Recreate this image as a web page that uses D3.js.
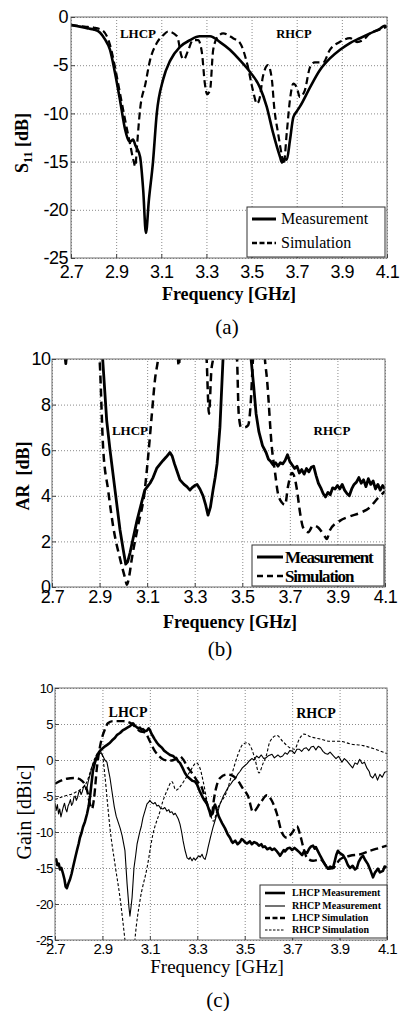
<!DOCTYPE html>
<html><head><meta charset="utf-8">
<script src="https://cdn.jsdelivr.net/npm/d3@7"></script>
<style>
body{margin:0;background:#fff;}
svg{display:block;}
</style></head><body>
<svg id="chart" width="400" height="1011"></svg>
<script>
// ---------- shared ticks ----------
const freqTicks = [2.7, 2.9, 3.1, 3.3, 3.5, 3.7, 3.9, 4.1];
const freqTickLabels = ["2.7", "2.9", "3.1", "3.3", "3.5", "3.7", "3.9", "4.1"];
const s11Ticks = [0, -5, -10, -15, -20, -25];
const arTicks = [10, 8, 6, 4, 2, 0];
const gainTicks = [10, 5, 0, -5, -10, -15, -20, -25];

// ---------- (a) S11 [dB] ----------
const s11Measurement = [[2.70,-0.85],[2.74,-1.0],[2.78,-1.2],[2.80,-1.3],[2.828,-1.6],[2.85,-2.3],[2.873,-3.4],[2.895,-5.8],[2.917,-8.6],[2.94,-11.7],[2.955,-12.8],[2.965,-12.9],[2.975,-12.7],[2.985,-13.3],[3.006,-14.5],[3.02,-18],[3.032,-22.4],[3.045,-19],[3.063,-15.1],[3.08,-10],[3.108,-6.5],[3.14,-4.5],[3.183,-3.1],[3.227,-2.4],[3.27,-2.0],[3.316,-2.0],[3.36,-2.6],[3.404,-3.4],[3.449,-4.5],[3.493,-5.7],[3.537,-7.3],[3.567,-9.3],[3.595,-12],[3.626,-14.5],[3.635,-15.1],[3.645,-14.7],[3.656,-14.8],[3.67,-12.8],[3.685,-10.4],[3.70,-9.8],[3.714,-9.3],[3.759,-7.3],[3.803,-5.5],[3.847,-4.3],[3.892,-3.4],[3.936,-2.7],[3.98,-2.2],[4.025,-1.7],[4.07,-1.2],[4.09,-0.9],[4.1,-1.1]];
const s11Simulation = [[2.70,-0.8],[2.76,-1.0],[2.80,-1.1],[2.84,-1.4],[2.873,-2.9],[2.895,-5.2],[2.917,-7.9],[2.94,-10.7],[2.96,-13],[2.976,-14.8],[2.985,-15.5],[2.992,-13.5],[3.006,-9.6],[3.03,-6.9],[3.05,-4.5],[3.08,-2.7],[3.108,-1.9],[3.13,-1.5],[3.17,-2.0],[3.19,-4.1],[3.20,-4.4],[3.22,-3.4],[3.24,-2.4],[3.263,-2.4],[3.28,-3.7],[3.293,-6.9],[3.303,-8.0],[3.316,-7.6],[3.33,-3.4],[3.352,-2.0],[3.374,-1.7],[3.418,-2.2],[3.449,-2.7],[3.48,-4.8],[3.506,-7.6],[3.524,-9.0],[3.537,-8.3],[3.55,-6.2],[3.573,-5.0],[3.59,-6.5],[3.60,-9.3],[3.617,-12],[3.635,-14.5],[3.642,-15.3],[3.656,-12],[3.67,-8.6],[3.685,-6.9],[3.70,-7.3],[3.714,-8.3],[3.736,-7.6],[3.759,-5.2],[3.78,-4.7],[3.817,-4.7],[3.847,-3.4],[3.89,-2.6],[3.936,-2.2],[3.967,-2.6],[3.994,-2.4],[4.025,-1.7],[4.07,-1.3],[4.1,-1.0]];

// ---------- (b) AR [dB] ----------
const arMeasurement = [[2.70,11],[2.75,10.6],[2.758,9.8],[2.765,10.6],[2.9,11],[2.913,10],[2.93,7.3],[2.944,6.0],[2.965,4.25],[2.986,2.5],[3.0,1.6],[3.01,1.0],[3.018,1.1],[3.028,1.5],[3.057,2.9],[3.09,4.25],[3.112,4.55],[3.125,4.8],[3.14,5.2],[3.155,5.4],[3.167,5.55],[3.18,5.7],[3.196,5.9],[3.205,5.75],[3.215,5.4],[3.225,5.1],[3.238,4.7],[3.255,4.5],[3.267,4.4],[3.28,4.25],[3.288,4.35],[3.3,4.45],[3.31,4.5],[3.322,4.3],[3.335,4.0],[3.346,3.6],[3.356,3.15],[3.366,3.5],[3.377,4.25],[3.386,4.8],[3.394,5.4],[3.406,7.0],[3.419,10],[3.43,11.5],[3.52,11.5],[3.537,10],[3.548,8.8],[3.558,7.6],[3.57,6.8],[3.585,6.2],[3.6,5.9],[3.61,5.6],[3.62,5.5],[3.63,5.35],[3.64,5.45],[3.65,5.3],[3.66,5.45],[3.67,5.4],[3.68,5.55],[3.69,5.8],[3.70,5.5],[3.71,5.35],[3.72,5.2],[3.73,5.3],[3.74,5.0],[3.75,5.15],[3.76,4.95],[3.77,5.2],[3.78,5.05],[3.79,5.25],[3.80,5.3],[3.81,4.9],[3.82,4.55],[3.83,4.35],[3.84,4.1],[3.85,3.95],[3.86,4.15],[3.87,4.05],[3.88,4.35],[3.89,4.3],[3.90,4.45],[3.91,4.3],[3.92,4.5],[3.93,4.25],[3.94,4.1],[3.95,4.0],[3.96,4.3],[3.97,4.5],[3.98,4.6],[3.99,4.8],[4.00,4.55],[4.01,4.7],[4.02,4.4],[4.03,4.75],[4.04,4.5],[4.05,4.65],[4.06,4.3],[4.07,4.5],[4.08,4.25],[4.09,4.45],[4.10,4.3]];
const arSimulation = [[2.70,12],[2.89,11],[2.9,10],[2.915,6.1],[2.936,4.25],[2.958,2.6],[2.987,1.2],[3.007,0.4],[3.015,0.1],[3.025,0.5],[3.035,1.2],[3.06,2.6],[3.09,4.25],[3.104,5.7],[3.12,7.6],[3.133,9.1],[3.146,10],[3.16,11.5],[3.22,11.5],[3.233,9.7],[3.245,11.5],[3.34,11.5],[3.35,10],[3.36,7.6],[3.37,9.5],[3.377,10],[3.39,11.5],[3.465,11.5],[3.478,10],[3.485,7.6],[3.495,7.0],[3.51,7.0],[3.525,7.1],[3.535,8],[3.545,10],[3.555,11.5],[3.585,11.5],[3.595,10],[3.604,9.1],[3.624,6.15],[3.638,5.0],[3.65,4.1],[3.667,3.7],[3.68,3.6],[3.692,4.4],[3.709,5.0],[3.72,4.8],[3.73,4.25],[3.743,3.25],[3.756,2.6],[3.777,2.4],[3.798,2.7],[3.82,2.6],[3.848,2.2],[3.855,2.1],[3.869,2.5],[3.91,2.9],[3.953,3.1],[3.995,3.25],[4.037,3.5],[4.07,3.9],[4.09,4.1],[4.1,4.2]];

// ---------- (c) Gain [dBic] ----------
const lhcpMeasurement = [[2.700,-14.0],[2.705,-13.8],[2.71,-14.6],[2.716,-14.4],[2.721,-15.2],[2.727,-15.0],[2.734,-15.8],[2.74,-16.6],[2.745,-17.6],[2.75,-17.8],[2.756,-17.2],[2.763,-16.6],[2.77,-15.8],[2.776,-14.9],[2.785,-13.6],[2.793,-12.5],[2.80,-11.6],[2.805,-10.8],[2.812,-10.1],[2.818,-9.3],[2.826,-8.6],[2.835,-7.5],[2.842,-6.4],[2.848,-5.0],[2.854,-3.2],[2.86,-1.5],[2.868,-0.4],[2.877,0.5],[2.884,1.0],[2.89,1.3],[2.90,1.6],[2.911,1.9],[2.92,2.1],[2.932,2.4],[2.94,2.7],[2.953,3.1],[2.962,3.5],[2.974,3.75],[2.985,4.1],[2.995,4.3],[3.005,4.5],[3.016,4.7],[3.022,4.9],[3.029,5.1],[3.036,4.8],[3.043,4.6],[3.05,4.4],[3.058,4.5],[3.065,4.2],[3.071,4.3],[3.08,4.0],[3.088,4.1],[3.095,4.4],[3.10,4.2],[3.106,3.7],[3.113,3.3],[3.12,2.9],[3.13,2.4],[3.14,2.0],[3.151,1.7],[3.16,1.3],[3.172,1.0],[3.185,0.7],[3.198,0.55],[3.206,0.3],[3.214,0.1],[3.22,-0.2],[3.227,-0.4],[3.238,-1.1],[3.248,-1.8],[3.258,-2.3],[3.269,-2.6],[3.28,-2.9],[3.29,-3.0],[3.299,-3.4],[3.31,-4.3],[3.32,-5.0],[3.33,-5.6],[3.341,-6.1],[3.348,-6.8],[3.354,-7.1],[3.36,-7.6],[3.366,-7.3],[3.37,-6.5],[3.375,-6.2],[3.383,-7.0],[3.39,-7.8],[3.396,-8.2],[3.405,-8.8],[3.417,-9.5],[3.428,-10.3],[3.438,-10.8],[3.445,-11.3],[3.45,-11.5],[3.46,-11.2],[3.47,-11.7],[3.48,-11.4],[3.487,-11.0],[3.493,-11.1],[3.50,-11.4],[3.51,-11.6],[3.522,-11.3],[3.53,-11.7],[3.54,-11.4],[3.552,-11.6],[3.56,-11.9],[3.57,-11.7],[3.577,-12.1],[3.585,-12.0],[3.595,-12.4],[3.607,-12.2],[3.615,-12.5],[3.625,-12.3],[3.636,-12.7],[3.643,-13.0],[3.649,-13.3],[3.657,-12.9],[3.665,-12.5],[3.67,-12.7],[3.68,-12.3],[3.691,-12.2],[3.70,-12.5],[3.71,-12.2],[3.72,-12.5],[3.73,-12.8],[3.742,-13.2],[3.75,-12.7],[3.763,-12.9],[3.772,-12.3],[3.78,-12.0],[3.788,-11.9],[3.795,-12.3],[3.80,-12.1],[3.809,-12.7],[3.82,-13.4],[3.83,-14.0],[3.84,-14.6],[3.851,-15.1],[3.86,-14.8],[3.872,-15.0],[3.88,-14.0],[3.886,-13.2],[3.893,-12.6],[3.90,-12.9],[3.914,-13.2],[3.925,-13.8],[3.935,-14.6],[3.944,-15.0],[3.955,-14.7],[3.965,-15.2],[3.973,-15.0],[3.98,-14.2],[3.99,-13.6],[3.999,-13.3],[4.008,-13.9],[4.02,-14.5],[4.03,-15.3],[4.041,-16.3],[4.05,-15.6],[4.062,-15.1],[4.07,-15.6],[4.083,-15.4],[4.09,-14.8],[4.1,-14.9]];
const rhcpMeasurement = [[2.70,-6.0],[2.705,-7.0],[2.71,-6.2],[2.715,-7.5],[2.72,-6.8],[2.725,-7.9],[2.73,-7.2],[2.735,-6.5],[2.74,-6.0],[2.745,-6.8],[2.75,-7.2],[2.755,-6.4],[2.76,-6.0],[2.765,-5.5],[2.77,-6.3],[2.775,-6.0],[2.78,-5.2],[2.785,-5.0],[2.79,-5.6],[2.795,-5.2],[2.80,-4.5],[2.805,-4.2],[2.81,-4.8],[2.815,-4.4],[2.82,-3.8],[2.825,-3.5],[2.83,-4.1],[2.835,-3.8],[2.84,-3.0],[2.845,-2.4],[2.85,-1.8],[2.855,-1.0],[2.865,-0.2],[2.875,0.5],[2.885,0.8],[2.895,1.0],[2.902,0.55],[2.91,0.0],[2.919,-0.3],[2.926,-1.5],[2.932,-2.5],[2.94,-4.3],[2.95,-6.5],[2.958,-7.8],[2.966,-8.6],[2.975,-9.5],[2.983,-10.5],[2.995,-12.6],[3.004,-17.2],[3.012,-20.5],[3.016,-21.7],[3.021,-20.3],[3.025,-19.1],[3.033,-15.0],[3.040,-13.3],[3.046,-11.7],[3.058,-9.9],[3.064,-9.2],[3.071,-8.0],[3.08,-7.0],[3.088,-6.1],[3.094,-5.9],[3.10,-5.6],[3.107,-5.9],[3.115,-6.1],[3.122,-5.9],[3.13,-6.4],[3.137,-6.3],[3.145,-6.7],[3.155,-6.8],[3.163,-6.6],[3.172,-7.1],[3.18,-6.9],[3.185,-7.3],[3.193,-7.2],[3.2,-7.6],[3.207,-7.4],[3.214,-7.8],[3.22,-8.2],[3.227,-8.9],[3.234,-10.0],[3.24,-11.2],[3.248,-12.5],[3.257,-13.6],[3.265,-13.8],[3.27,-13.5],[3.278,-14.0],[3.285,-13.6],[3.292,-13.9],[3.299,-13.6],[3.306,-13.3],[3.312,-13.5],[3.32,-13.1],[3.326,-13.6],[3.333,-13.8],[3.34,-13.0],[3.345,-12.2],[3.355,-10.8],[3.366,-9.4],[3.375,-8.4],[3.383,-7.5],[3.39,-6.8],[3.396,-6.1],[3.403,-5.6],[3.41,-5.0],[3.42,-4.4],[3.43,-3.8],[3.44,-3.4],[3.45,-2.9],[3.46,-2.6],[3.47,-2.0],[3.48,-1.6],[3.49,-1.1],[3.50,-0.8],[3.51,-0.5],[3.52,-0.1],[3.53,0.2],[3.54,0.0],[3.55,0.55],[3.56,0.3],[3.57,0.7],[3.58,0.2],[3.59,0.3],[3.60,0.6],[3.615,0.8],[3.625,0.3],[3.64,0.7],[3.65,0.4],[3.66,0.55],[3.67,1.0],[3.68,0.8],[3.69,1.3],[3.70,1.25],[3.71,0.9],[3.72,1.5],[3.73,1.5],[3.74,1.2],[3.75,1.6],[3.76,1.7],[3.77,1.3],[3.78,1.8],[3.79,1.9],[3.80,1.4],[3.81,1.9],[3.82,1.7],[3.83,1.2],[3.84,0.9],[3.85,0.8],[3.86,1.1],[3.875,0.55],[3.885,0.2],[3.895,0.5],[3.90,0.3],[3.91,-0.3],[3.92,0.2],[3.93,-0.1],[3.94,-0.5],[3.955,-1.1],[3.965,-0.4],[3.975,-0.6],[3.985,0.1],[3.995,-0.5],[4.005,-0.3],[4.015,-1.1],[4.025,-1.6],[4.03,-2.2],[4.04,-2.5],[4.05,-1.9],[4.06,-2.8],[4.07,-2.0],[4.08,-2.4],[4.09,-1.7],[4.1,-1.6]];
const lhcpSimulation = [[2.70,-3.3],[2.75,-2.6],[2.784,-2.5],[2.814,-2.9],[2.835,-4.2],[2.848,-6.2],[2.856,-6.8],[2.864,-5.5],[2.877,-1.0],[2.89,1.9],[2.911,4.3],[2.923,5.1],[2.945,5.4],[2.987,5.4],[3.025,5.0],[3.058,4.0],[3.08,3.8],[3.10,2.6],[3.12,1.3],[3.14,0.5],[3.155,0.1],[3.18,-0.1],[3.2,0.0],[3.227,0.5],[3.24,0.1],[3.261,-1.1],[3.282,-2.0],[3.299,-2.9],[3.32,-3.9],[3.333,-5.3],[3.35,-7.0],[3.36,-8.0],[3.37,-5.5],[3.38,-3.8],[3.396,-2.5],[3.425,-2.0],[3.45,-2.2],[3.472,-2.9],[3.493,-4.0],[3.514,-5.0],[3.535,-7.2],[3.565,-6.0],[3.594,-4.9],[3.615,-5.7],[3.636,-7.5],[3.657,-10.1],[3.678,-10.8],[3.70,-10.1],[3.72,-9.2],[3.733,-10.3],[3.746,-12],[3.763,-13.6],[3.788,-14.0],[3.818,-13.8],[3.839,-14.5],[3.851,-15.1],[3.872,-15],[3.902,-13.8],[3.944,-13.3],[3.986,-13.1],[4.028,-12.6],[4.07,-12.2],[4.1,-11.9]];
const rhcpSimulation = [[2.70,-5.5],[2.74,-5.0],[2.78,-4.6],[2.81,-4.0],[2.835,-3.0],[2.85,-1.5],[2.865,0],[2.88,1.0],[2.89,1.2],[2.90,0.6],[2.91,-2.0],[2.92,-5.5],[2.932,-9.5],[2.953,-14.5],[2.974,-19.1],[2.995,-25],[3.005,-28],[3.03,-28],[3.037,-25],[3.058,-19.6],[3.088,-15],[3.113,-10.3],[3.143,-7.1],[3.155,-5.7],[3.172,-4.3],[3.193,-3.0],[3.21,-4.2],[3.23,-3.6],[3.25,-2.6],[3.275,-1.3],[3.295,-0.4],[3.31,-1.0],[3.325,-3.0],[3.34,-5.5],[3.355,-7.5],[3.368,-8.5],[3.385,-6.8],[3.425,-4.3],[3.45,-1.5],[3.472,0.8],[3.493,2.2],[3.51,2.4],[3.53,1.5],[3.545,-0.1],[3.56,-1.8],[3.577,-0.5],[3.59,0.5],[3.607,2.6],[3.636,3.4],[3.66,2.6],[3.69,1.7],[3.71,1.5],[3.73,2.9],[3.75,3.6],[3.78,3.2],[3.82,2.9],[3.86,2.6],[3.9,2.6],[3.95,2.2],[4.0,2.0],[4.05,1.5],[4.1,0.9]];

// ---------- drawing ----------
const svg = d3.select("#chart");
const SERIF = "'Liberation Serif','Times New Roman',Times,serif";
const SANS = "'Liberation Sans',Arial,Helvetica,sans-serif";

function drawPanel(cfg) {
  const g = svg.append("g");
  const x = d3.scaleLinear().domain([2.7, 4.1]).range([cfg.l, cfg.r]);
  const y = d3.scaleLinear().domain(cfg.yDomain).range([cfg.b, cfg.t]);
  const w = cfg.r - cfg.l, h = cfg.b - cfg.t;

  // grid
  const gx = g.append("g").attr("transform", `translate(0,${cfg.b})`)
    .call(d3.axisBottom(x).tickValues(freqTicks).tickSize(-h).tickFormat(""));
  const gy = g.append("g").attr("transform", `translate(${cfg.l},0)`)
    .call(d3.axisLeft(y).tickValues(cfg.yTicks).tickSize(-w).tickFormat(""));
  [gx, gy].forEach(a => {
    a.select(".domain").remove();
    a.selectAll("line").attr("stroke", "#8a8a8a").attr("stroke-width", 1).attr("stroke-dasharray", "1,2");
  });

  // clip
  const cid = "clip" + cfg.id;
  svg.append("clipPath").attr("id", cid).append("rect")
    .attr("x", cfg.l).attr("y", cfg.t).attr("width", w).attr("height", h);

  const lines = g.append("g").attr("clip-path", `url(#${cid})`);
  cfg.series.forEach(s => {
    const gen = d3.line().x(d => x(d[0])).y(d => y(d[1])).curve(s.curve || d3.curveLinear);
    lines.append("path").datum(s.data).attr("d", gen)
      .attr("fill", "none").attr("stroke", "#000")
      .attr("stroke-width", s.width).attr("stroke-dasharray", s.dash || null)
      .attr("stroke-linejoin", "round");
  });

  // frame
  g.append("rect").attr("x", cfg.l).attr("y", cfg.t).attr("width", w).attr("height", h)
    .attr("fill", "none").attr("stroke", "#6e6e6e").attr("stroke-width", 1);

  // axes with labels
  const ax = g.append("g").attr("transform", `translate(0,${cfg.b})`)
    .call(d3.axisBottom(x).tickValues(freqTicks).tickSize(-4).tickPadding(cfg.xPad)
      .tickFormat((d, i) => freqTickLabels[i]));
  const ay = g.append("g").attr("transform", `translate(${cfg.l},0)`)
    .call(d3.axisLeft(y).tickValues(cfg.yTicks).tickSize(-4).tickPadding(cfg.yPad)
      .tickFormat(d => String(d)));
  [ax, ay].forEach(a => {
    a.select(".domain").remove();
    a.selectAll("line").attr("stroke", "#444");
  });
  ax.selectAll("text").attr("font-family", SANS).attr("font-size", cfg.xFont).attr("fill", "#000")
    .attr("letter-spacing", cfg.ls || 0);
  ay.selectAll("text").attr("font-family", SANS).attr("font-size", cfg.yFont).attr("fill", "#000")
    .attr("letter-spacing", cfg.ls || 0);

  return { g, x, y };
}

function legend(g, cfg) {
  g.append("rect").attr("x", cfg.x0).attr("y", cfg.y0).attr("width", cfg.x1 - cfg.x0).attr("height", cfg.y1 - cfg.y0)
    .attr("fill", "#fff").attr("stroke", "#333").attr("stroke-width", 1);
  cfg.items.forEach(it => {
    g.append("line").attr("x1", cfg.lx0).attr("x2", cfg.lx1).attr("y1", it.y).attr("y2", it.y)
      .attr("stroke", "#000").attr("stroke-width", it.width).attr("stroke-dasharray", it.dash || null);
    g.append("text").attr("x", cfg.tx).attr("y", it.y).attr("dy", "0.33em")
      .attr("font-family", SERIF).attr("font-size", cfg.font).attr("font-weight", cfg.weight)
      .attr("letter-spacing", cfg.ls || 0).text(it.label);
  });
}

function label(txt, x, y, size, weight, opts = {}) {
  const t = svg.append("text").attr("x", x).attr("y", y).attr("text-anchor", opts.anchor || "middle")
    .attr("font-family", opts.family || SERIF).attr("font-size", size).attr("font-weight", weight);
  if (opts.rotate) t.attr("transform", `rotate(-90,${x},${y})`);
  t.text(txt);
  return t;
}

// ----- panel (a) -----
const pa = drawPanel({
  id: "a", l: 71, r: 387, t: 17, b: 258, yDomain: [-25, 0], yTicks: s11Ticks,
  xPad: 7, yPad: 3, xFont: 18, yFont: 18, ls: -0.5,
  series: [
    { data: s11Simulation, width: 2.2, dash: "7,4", curve: d3.curveMonotoneX },
    { data: s11Measurement, width: 2.6, curve: d3.curveMonotoneX }
  ]
});
legend(pa.g, { x0: 247, x1: 385, y0: 207, y1: 257, lx0: 252, lx1: 276, tx: 281, font: 16, weight: "normal",
  items: [{ y: 219, width: 3, label: "Measurement" }, { y: 243, width: 2.6, dash: "5,2.5", label: "Simulation" }] });
label("LHCP", 138, 38, 13, "bold");
label("RHCP", 294, 38, 12.5, "bold");
label("Frequency [GHz]", 229, 300, 18, "bold");
{
  const t = svg.append("text").attr("transform", "translate(28,143) rotate(-90)").attr("text-anchor", "middle")
    .attr("font-family", SERIF).attr("font-size", 18).attr("font-weight", "bold");
  t.append("tspan").text("S");
  t.append("tspan").attr("font-size", 12).attr("dy", 4).text("11");
  t.append("tspan").attr("dy", -4).text("\u00A0[dB]");
}
label("(a)", 227, 334, 21, "normal");

// ----- panel (b) -----
const pb = drawPanel({
  id: "b", l: 52, r: 385, t: 359, b: 587, yDomain: [0, 10], yTicks: arTicks,
  xPad: 3, yPad: 1.5, xFont: 18, yFont: 18, ls: -0.5,
  series: [
    { data: arSimulation, width: 2.5, dash: "8,5", curve: d3.curveMonotoneX },
    { data: arMeasurement, width: 2.8 }
  ]
});
legend(pb.g, { x0: 252, x1: 384, y0: 545, y1: 586, lx0: 257, lx1: 283, tx: 285, font: 17, weight: "bold", ls: -1.1,
  items: [{ y: 557, width: 3, label: "Measurement" }, { y: 576, width: 2.4, dash: "6,4", label: "Simulation" }] });
label("LHCP", 130, 435, 13, "bold");
label("RHCP", 332, 435, 13, "bold");
label("Frequency [GHz]", 230, 628, 18, "bold");
label("AR\u00A0\u00A0[dB]", 29, 476, 18, "bold", { rotate: true });
label("(b)", 220, 656, 21, "normal");

// ----- panel (c) -----
const pc = drawPanel({
  id: "c", l: 55, r: 387, t: 688, b: 940, yDomain: [-25, 10], yTicks: gainTicks,
  xPad: 3, xFont: 15, yPad: 2, yFont: 13, ls: -0.6,
  series: [
    { data: rhcpSimulation, width: 1.1, dash: "3,2", curve: d3.curveMonotoneX },
    { data: lhcpSimulation, width: 2.4, dash: "8,4", curve: d3.curveMonotoneX },
    { data: rhcpMeasurement, width: 1.1 },
    { data: lhcpMeasurement, width: 2.6 }
  ]
});
legend(pc.g, { x0: 260, x1: 387, y0: 885, y1: 938, lx0: 265, lx1: 285, tx: 292, font: 10, weight: "bold",
  items: [
    { y: 893, width: 2.6, label: "LHCP Measurement" },
    { y: 906, width: 1.1, label: "RHCP Measurement" },
    { y: 918, width: 2.4, dash: "5,2.5", label: "LHCP Simulation" },
    { y: 930, width: 1, dash: "2.5,1.5", label: "RHCP Simulation" }
  ] });
label("LHCP", 128, 717, 14, "bold");
label("RHCP", 316, 718, 14, "bold");
label("Frequency [GHz]", 217, 973, 19, "normal");
label("Gain [dBic]", 31, 812, 20, "normal", { rotate: true });
label("(c)", 218, 1007, 21, "normal");
</script>
</body></html>
